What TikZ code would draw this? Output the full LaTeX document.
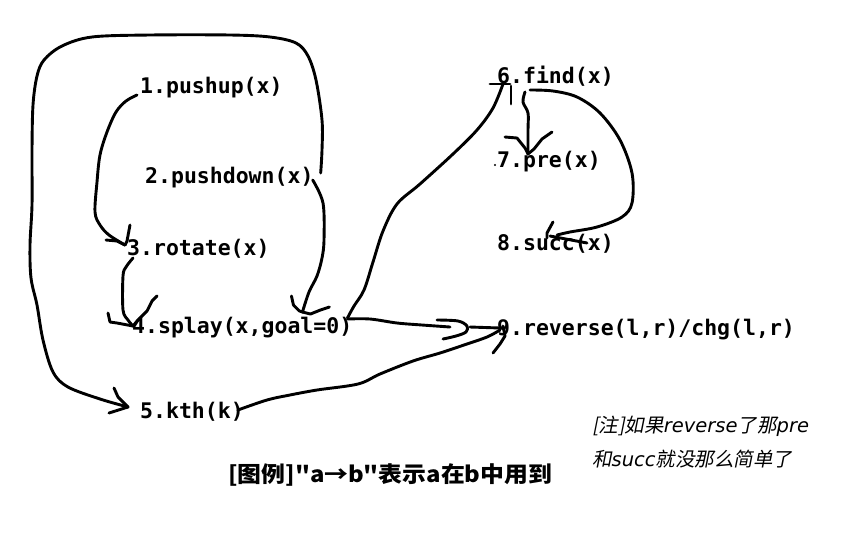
\documentclass[tikz,border=0pt]{standalone}
\usepackage{fontspec}
\usepackage{graphicx}
\setmonofont{DejaVu Sans Mono}
\newfontfamily\cjk{Noto Sans CJK SC}
\newfontfamily\cjkit[FakeSlant=0.2]{Noto Sans CJK SC}
\newfontfamily\latit{DejaVu Sans Oblique}
\tikzset{
  fn/.style={anchor=base west,inner sep=0pt,font=\ttfamily\bfseries\fontsize{21.5pt}{24pt}\selectfont},
  hand/.style={line width=2.9pt,line cap=round,line join=round,black},
  sm/.style={smooth,tension=0.55},
  notefont/.style={anchor=base west,inner sep=0pt,align=left,font=\cjkit\fontsize{19.5pt}{34pt}\selectfont}
}
\begin{document}
\begin{tikzpicture}[x=1pt,y=-1pt]
\useasboundingbox[fill=white] (0,0) rectangle (866,539);
% function nodes
\node[fn] (n1) at (140,93) {1.pushup(x)};
\node[fn] (n2) at (145,183) {2.pushdown(x)};
\node[fn] (n3) at (127,255) {3.rotate(x)};
\node[fn] (n4) at (132,333) {4.splay(x,goal=0)};
\node[fn] (n5) at (140,418) {5.kth(k)};
\node[fn] (n6) at (497,83) {6.find(x)};
\node[fn] (n7) at (497,167) {7.pre(x)};
\node[fn] (n8) at (497,250) {8.succ(x)};
\node[fn] (n9) at (497,335) {9.reverse(l,r)/chg(l,r)};
% tip coordinates
\coordinate (t5) at ([shift={(-12,-11)}]n5.base west);
\coordinate (t3) at ([shift={(-2,-10)}]n3.base west);
\coordinate (t4a) at ([shift={(1,-7)}]n4.base west);
\coordinate (t4b) at ([shift={(-50,-21)}]n4.base east);
\coordinate (t6) at ([shift={(6,1)}]n6.base west);
\coordinate (t9a) at ([shift={(3,-7)}]n9.base west);
\coordinate (t9b) at ([shift={(3,-5)}]n9.base west);
\coordinate (t7) at ([shift={(31,-13)}]n7.base west);
\coordinate (t8) at ([shift={(60,-15)}]n8.base west);
% A: pushdown -> kth (big loop)
\draw[hand] plot[sm] coordinates {([shift={(7,-10)}]n2.base east) (322,150) (322,120) (316,80) (308,56) (296,43) (270,37) (230,35) (150,35) (92,37) (62,46) (44,60) (37,76) (33,105) (32,150) (32,205) (30,245) (31,278) (37,305) (43,340) (53,372) (68,387) (100,399) (t5)};
\draw[hand] (t5) -- ++(-10,-10) -- ++(-4,-9);
\draw[hand] (t5) -- ++(-19,6);
% B: pushup -> rotate
\draw[hand] plot[sm] coordinates {([shift={(-3,2)}]n1.base west) (126,101) (116,112) (107,132) (100,155) (97,182) (95,212) (100,225) (109,235) (t3)};
\draw[hand] (t3) -- ++(-8,-4) -- ++(-11,-1);
\draw[hand] (t3) -- ++(2,-4) -- ++(3,-16);
% C: rotate -> splay
\draw[hand] plot[sm] coordinates {([shift={(6,3)}]n3.base west) (126,267) (123,276) (123,310) (128,320) (t4a)};
\draw[hand] (t4a) -- ++(-16,-3) -- ++(-7,-1) -- ++(-2,-9);
\draw[hand] (t4a) -- ++(4,-5) -- ++(10,-10) -- ++(5,-10) -- ++(5,-5);
% D: pushdown -> splay
\draw[hand] plot[sm] coordinates {([shift={(-1,-3)}]n2.base east) (323,203) (324,240) (322,258) (317,276) (309,292) (t4b)};
\draw[hand] (t4b) -- ++(-3,-1) -- ++(-6,-6) -- ++(-2,-9);
\draw[hand] (t4b) -- ++(8,2) -- ++(10,-4) -- ++(9,-3);
% E: splay -> find
\draw[hand] plot[sm] coordinates {([shift={(-5,-15)}]n4.base east) (354,306) (364,290) (373,262) (383,231) (397,204) (420,184) (453,154) (477,130) (493,108) (t6)};
\draw[hand] ([shift={(-13,0)}]t6) -- ++(20,0);
\draw[hand] ([shift={(8,2)}]t6) -- ++(0,18);
% F: splay -> reverse
\draw[hand] plot[sm] coordinates {([shift={(-5,-14)}]n4.base east) (370,319) (397,323) (422,325) (450,327)};
\draw[hand] plot[sm] coordinates {(437,320) (458,321) (467,326) (466,332) (456,336) (443,339)};
\draw[hand] (470,327) -- (t9a);
% G: kth -> reverse
\draw[hand] plot[sm] coordinates {([shift={(-6,-8)}]n5.base east) (267,400) (290,395) (317,390) (358,384) (380,374) (413,361) (440,353) (464,345) (487,337) (t9b)};
\draw[hand] (t9b) ++(-7,23) -- ++(7,-9) -- ++(5,-8) -- ++(-2,-10);
% H: find -> pre
\draw[hand] plot[sm] coordinates {([shift={(28,9)}]n6.base west) (523,102) (528,113) (528,130) (t7)};
\draw[hand] (t7) -- ++(-3,-6) -- ++(-8,-10) -- ++(-12,-1);
\draw[hand] (t7) -- ++(6,-5) -- ++(8,-10) -- ++(10,-7);
% I: find -> succ
\draw[hand] plot[sm] coordinates {([shift={(33,7)}]n6.base west) (553,91) (577,97) (600,113) (620,140) (632,173) (632,203) (622,217) (597,227) (570,232) (t8)};
\draw[hand] (t8) ++(-4,-13) -- ++(-6,11) -- ++(0,5);
\draw[hand] (t8) ++(-7,1) -- ++(37,7);
% stray dot
\fill (495,165) circle (1.2);
% legend
\node[anchor=base west,inner sep=0pt,font=\cjk\bfseries\fontsize{22pt}{26pt}\selectfont] (leg) at (228,482) {\scalebox{1.085}[1]{[图例]"a→b"表示a在b中用到}};
% note (two lines in one node; base = last line)
\node[notefont] (note) at (592,466) {[注]如果{\latit reverse}了那{\latit pre}\\和{\latit succ}就没那么简单了};
\end{tikzpicture}
\end{document}
